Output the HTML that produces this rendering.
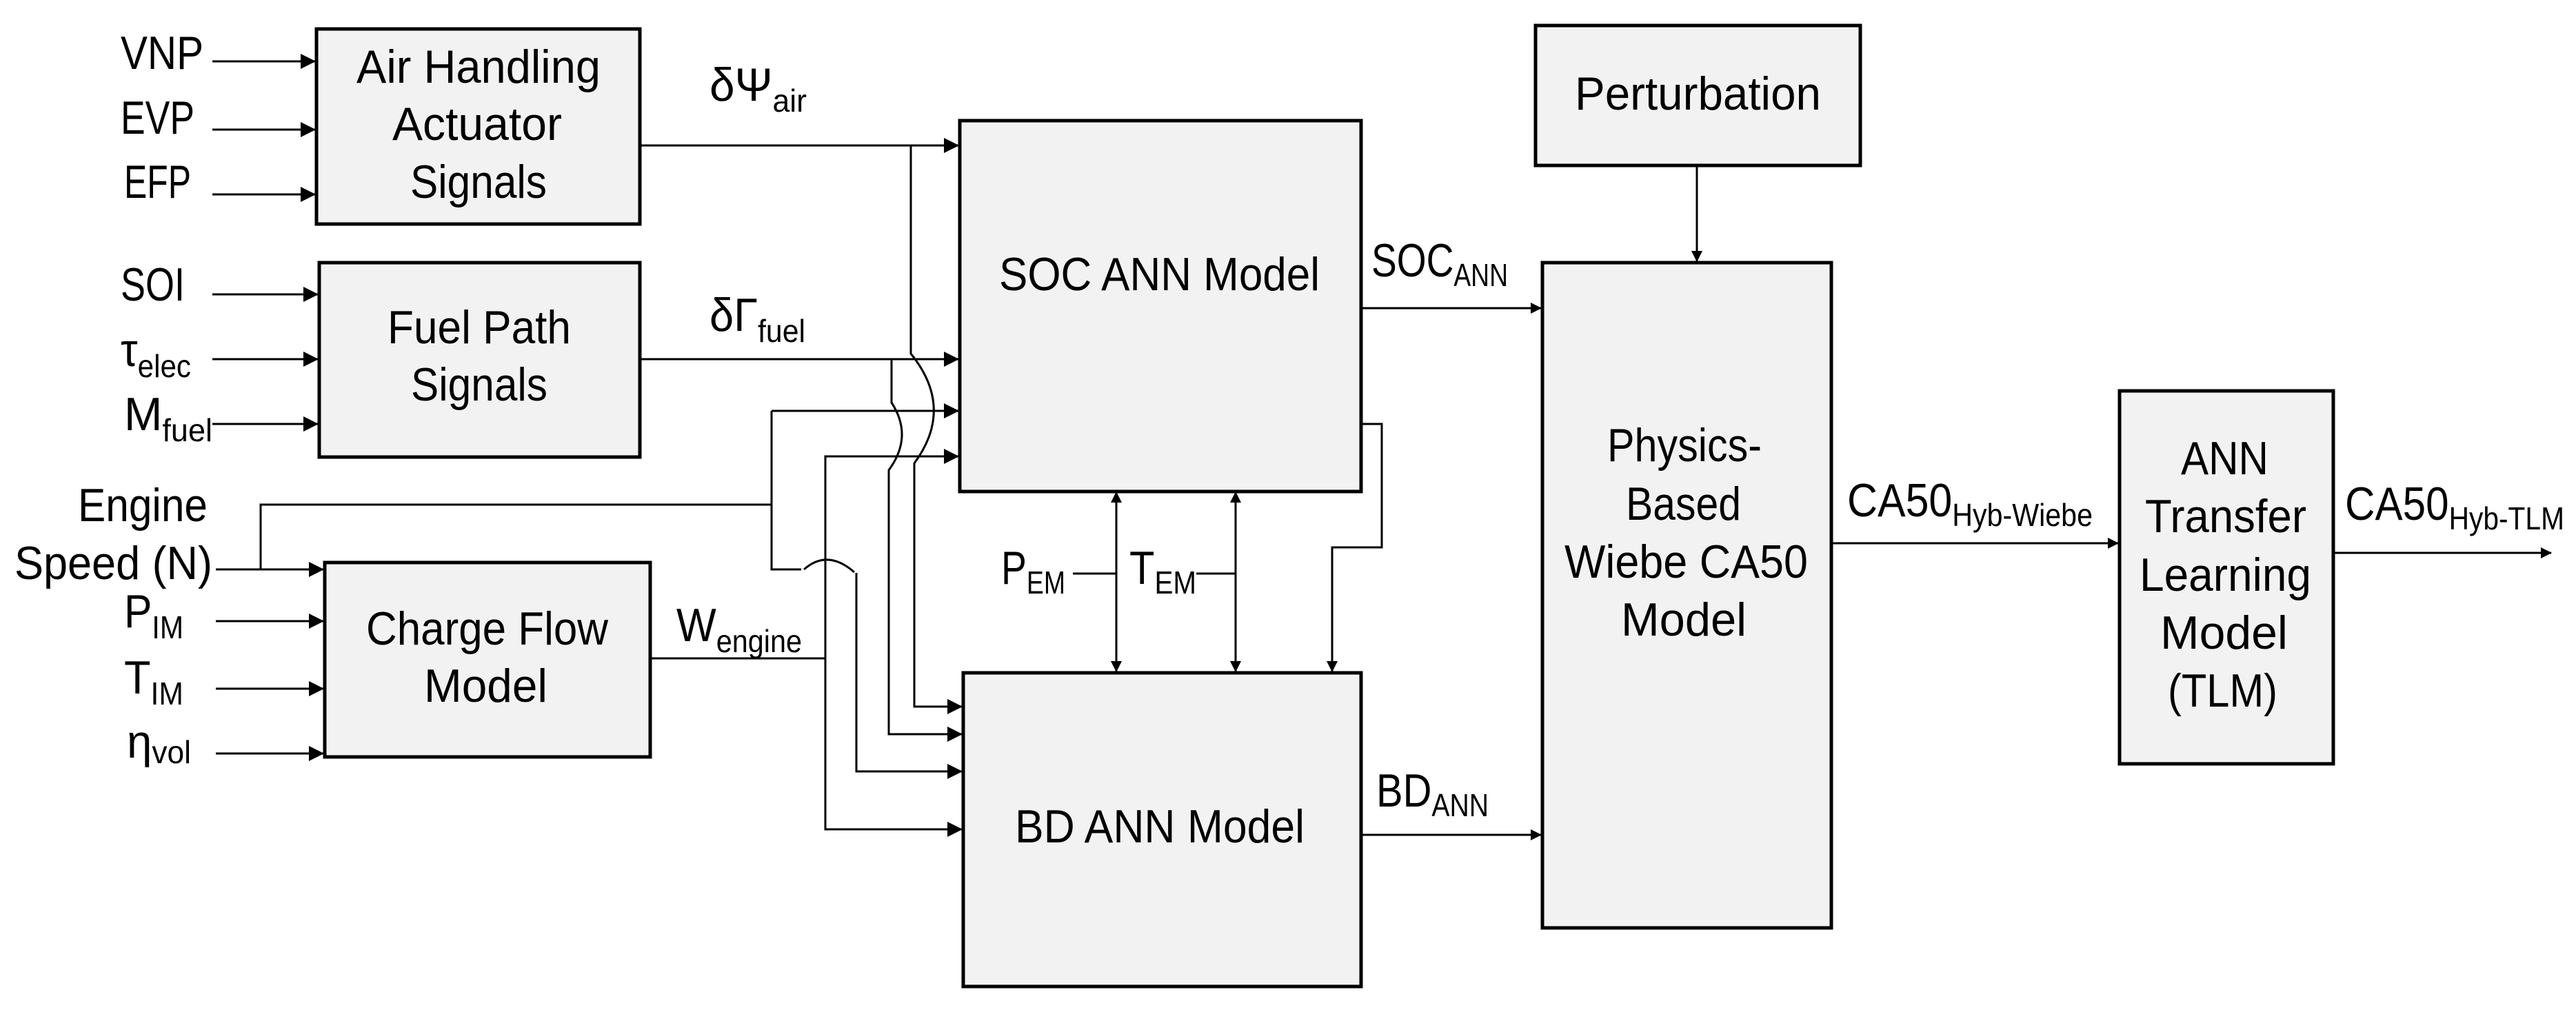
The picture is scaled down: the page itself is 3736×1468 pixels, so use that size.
<!DOCTYPE html>
<html><head><meta charset="utf-8"><style>
html,body{margin:0;padding:0;background:#fff;}
svg{display:block;}
text{font-family:"Liberation Sans Narrow","Liberation Sans",sans-serif;fill:#000;}
</style></head><body>
<svg width="3736" height="1468" viewBox="0 0 3736 1468" xmlns="http://www.w3.org/2000/svg">
<defs>
<marker id="a" markerWidth="22" markerHeight="22" refX="21" refY="11" orient="auto" markerUnits="userSpaceOnUse">
<path d="M0,0 L22,11 L0,22 Z" fill="#000"/></marker>
<marker id="s" markerWidth="16" markerHeight="16" refX="15" refY="8" orient="auto" markerUnits="userSpaceOnUse">
<path d="M0,0 L16,8 L0,16 Z" fill="#000"/></marker>
<marker id="sb" markerWidth="16" markerHeight="16" refX="1" refY="8" orient="auto" markerUnits="userSpaceOnUse">
<path d="M16,0 L0,8 L16,16 Z" fill="#000"/></marker>
</defs>
<g fill="#f2f2f2" stroke="#000" stroke-width="5">
<rect x="459" y="42" width="469" height="283"/>
<rect x="463" y="381" width="465" height="282"/>
<rect x="471" y="816" width="472" height="282"/>
<rect x="1392" y="175" width="582" height="538"/>
<rect x="1397" y="976" width="577" height="455"/>
<rect x="2227" y="37" width="471" height="203"/>
<rect x="2237" y="381" width="419" height="965"/>
<rect x="3074" y="567" width="310" height="541"/>
</g>
<g stroke="#000" stroke-width="3" fill="none">
<line x1="308" y1="89" x2="457" y2="89" marker-end="url(#a)"/>
<line x1="308" y1="188" x2="457" y2="188" marker-end="url(#a)"/>
<line x1="308" y1="282" x2="457" y2="282" marker-end="url(#a)"/>
<line x1="308" y1="427" x2="461" y2="427" marker-end="url(#a)"/>
<line x1="308" y1="521" x2="461" y2="521" marker-end="url(#a)"/>
<line x1="308" y1="615" x2="461" y2="615" marker-end="url(#a)"/>
<line x1="313" y1="826" x2="469" y2="826" marker-end="url(#a)"/>
<line x1="313" y1="901" x2="469" y2="901" marker-end="url(#a)"/>
<line x1="313" y1="999" x2="469" y2="999" marker-end="url(#a)"/>
<line x1="313" y1="1093" x2="469" y2="1093" marker-end="url(#a)"/>
<line x1="928" y1="211" x2="1390" y2="211" marker-end="url(#a)"/>
<path d="M1321,211 L1321,513 Q1385,592 1326,672 L1326,1025 L1395,1025" marker-end="url(#a)"/>
<line x1="928" y1="521" x2="1390" y2="521" marker-end="url(#a)"/>
<path d="M1293,521 L1293,584 Q1325,633 1289,682 L1289,1065 L1395,1065" marker-end="url(#a)"/>
<path d="M378,826 L378,732 L1119,732"/>
<path d="M1119,596 L1390,596" marker-end="url(#a)"/>
<path d="M1119,596 L1119,826 L1162,826 M1166,826 Q1200,796 1239,830 M1242,831 L1242,1119 L1395,1119" marker-end="url(#a)"/>
<path d="M943,955 L1197,955 L1197,1203 L1395,1203" marker-end="url(#a)"/>
<path d="M1197,955 L1197,662 L1390,662" marker-end="url(#a)"/>
<path d="M1974,615 L2004,615 L2004,794 L1932,794 L1932,974" marker-end="url(#s)"/>
<line x1="1619" y1="714" x2="1619" y2="974" marker-start="url(#sb)" marker-end="url(#s)"/>
<line x1="1792" y1="714" x2="1792" y2="974" marker-start="url(#sb)" marker-end="url(#s)"/>
<line x1="1556" y1="832" x2="1619" y2="832"/>
<line x1="1735" y1="832" x2="1792" y2="832"/>
<line x1="1974" y1="447" x2="2235" y2="447" marker-end="url(#s)"/>
<line x1="1974" y1="1211" x2="2235" y2="1211" marker-end="url(#s)"/>
<line x1="2461" y1="240" x2="2461" y2="379" marker-end="url(#s)"/>
<line x1="2656" y1="788" x2="3072" y2="788" marker-end="url(#s)"/>
<line x1="3384" y1="802" x2="3700" y2="802" marker-end="url(#s)"/>
</g>
<g font-size="68" lengthAdjust="spacingAndGlyphs">
<text x="175" y="100" textLength="120" lengthAdjust="spacingAndGlyphs">VNP</text>
<text x="175" y="194" textLength="107" lengthAdjust="spacingAndGlyphs">EVP</text>
<text x="180" y="287" textLength="97" lengthAdjust="spacingAndGlyphs">EFP</text>
<text x="175" y="436" textLength="93" lengthAdjust="spacingAndGlyphs">SOI</text>
<text x="175" y="531" textLength="102" lengthAdjust="spacingAndGlyphs">τ<tspan font-size="46" dy="16">elec</tspan></text>
<text x="180" y="624" textLength="128" lengthAdjust="spacingAndGlyphs">M<tspan font-size="46" dy="16">fuel</tspan></text>
<text x="113" y="756" textLength="188" lengthAdjust="spacingAndGlyphs">Engine</text>
<text x="21" y="840" textLength="287" lengthAdjust="spacingAndGlyphs">Speed (N)</text>
<text x="180" y="910" textLength="86" lengthAdjust="spacingAndGlyphs">P<tspan font-size="46" dy="16">IM</tspan></text>
<text x="180" y="1006" textLength="86" lengthAdjust="spacingAndGlyphs">T<tspan font-size="46" dy="16">IM</tspan></text>
<text x="184" y="1099" textLength="93" lengthAdjust="spacingAndGlyphs">η<tspan font-size="46" dy="8">vol</tspan></text>
<text x="517" y="120" textLength="354" lengthAdjust="spacingAndGlyphs">Air Handling</text>
<text x="569" y="203" textLength="246" lengthAdjust="spacingAndGlyphs">Actuator</text>
<text x="595" y="287" textLength="198" lengthAdjust="spacingAndGlyphs">Signals</text>
<text x="562" y="498" textLength="266" lengthAdjust="spacingAndGlyphs">Fuel Path</text>
<text x="596" y="581" textLength="198" lengthAdjust="spacingAndGlyphs">Signals</text>
<text x="531" y="935" textLength="351" lengthAdjust="spacingAndGlyphs">Charge Flow</text>
<text x="615" y="1018" textLength="179" lengthAdjust="spacingAndGlyphs">Model</text>
<text x="1029" y="146" textLength="141" lengthAdjust="spacingAndGlyphs">δΨ<tspan font-size="46" dy="16">air</tspan></text>
<text x="1029" y="480" textLength="139" lengthAdjust="spacingAndGlyphs">δΓ<tspan font-size="46" dy="16">fuel</tspan></text>
<text x="981" y="930" textLength="182" lengthAdjust="spacingAndGlyphs">W<tspan font-size="46" dy="16">engine</tspan></text>
<text x="1449" y="421" textLength="465" lengthAdjust="spacingAndGlyphs">SOC ANN Model</text>
<text x="1472" y="1222" textLength="420" lengthAdjust="spacingAndGlyphs">BD ANN Model</text>
<text x="2284" y="159" textLength="357" lengthAdjust="spacingAndGlyphs">Perturbation</text>
<text x="1989" y="401" textLength="198" lengthAdjust="spacingAndGlyphs">SOC<tspan font-size="46" dy="14">ANN</tspan></text>
<text x="1996" y="1170" textLength="163" lengthAdjust="spacingAndGlyphs">BD<tspan font-size="46" dy="14">ANN</tspan></text>
<text x="1452" y="847" textLength="93" lengthAdjust="spacingAndGlyphs">P<tspan font-size="46" dy="14">EM</tspan></text>
<text x="1638" y="847" textLength="97" lengthAdjust="spacingAndGlyphs">T<tspan font-size="46" dy="14">EM</tspan></text>
<text x="2331" y="669" textLength="224" lengthAdjust="spacingAndGlyphs">Physics-</text>
<text x="2358" y="754" textLength="167" lengthAdjust="spacingAndGlyphs">Based</text>
<text x="2269" y="838" textLength="353" lengthAdjust="spacingAndGlyphs">Wiebe CA50</text>
<text x="2351" y="922" textLength="182" lengthAdjust="spacingAndGlyphs">Model</text>
<text x="3163" y="688" textLength="127" lengthAdjust="spacingAndGlyphs">ANN</text>
<text x="3111" y="772" textLength="234" lengthAdjust="spacingAndGlyphs">Transfer</text>
<text x="3103" y="857" textLength="249" lengthAdjust="spacingAndGlyphs">Learning</text>
<text x="3133" y="941" textLength="185" lengthAdjust="spacingAndGlyphs">Model</text>
<text x="3144" y="1025" textLength="159" lengthAdjust="spacingAndGlyphs">(TLM)</text>
<text x="2679" y="749" textLength="356" lengthAdjust="spacingAndGlyphs">CA50<tspan font-size="46" dy="14">Hyb-Wiebe</tspan></text>
<text x="3401" y="754" textLength="318" lengthAdjust="spacingAndGlyphs">CA50<tspan font-size="46" dy="14">Hyb-TLM</tspan></text>
</g>
</svg>
</body></html>
